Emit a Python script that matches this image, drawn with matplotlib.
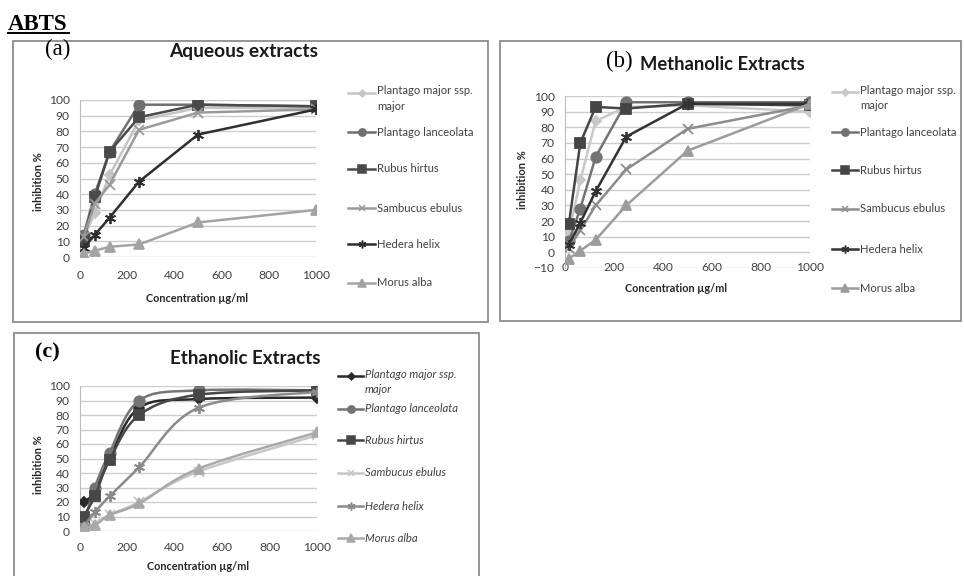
import numpy as np
import matplotlib
matplotlib.use("Agg")
import matplotlib.pyplot as plt
from matplotlib.patches import Rectangle, PathPatch
from matplotlib.lines import Line2D
from matplotlib.path import Path

# ---------------------------
# data (inhibition %)

conc = [15.6, 62.5, 125, 250, 500, 1000]
species = ['Plantago major ssp.\nmajor', 'Plantago lanceolata', 'Rubus hirtus',
           'Sambucus ebulus', 'Hedera helix', 'Morus alba']

pm_aq = [12, 28, 52, 87, 95, 95]
pl_aq = [14, 40, 67, 97, 97, 96]
rh_aq = [11, 38, 67, 89, 97, 96]
se_aq = [13, 34, 46, 81, 92, 94]
hh_aq = [6, 14, 25, 48, 78, 94]
ma_aq = [2, 4, 6.5, 8, 22, 30]

pm_me = [12, 46, 84, 93, 94, 90]
pl_me = [7, 28, 61, 96, 96, 96]
rh_me = [18, 70, 93, 92, 95, 94]
se_me = [3, 14, 30, 53, 79, 94]
hh_me = [5, 19, 39, 74, 95, 95]
ma_me = [-4, 1, 8, 30, 65, 95]

pm_et = [20, 27, 50, 85, 91, 92]
pl_et = [5, 30, 54, 90, 97, 97]
rh_et = [10, 24, 49, 80, 94, 97]
se_et = [2, 5, 11, 20, 41, 66]
hh_et = [3, 13, 24, 44, 85, 96]
ma_et = [3, 4, 11, 19, 43, 68]

aqueous = [pm_aq, pl_aq, rh_aq, se_aq, hh_aq, ma_aq]
methanolic = [pm_me, pl_me, rh_me, se_me, hh_me, ma_me]
ethanolic = [pm_et, pl_et, rh_et, se_et, hh_et, ma_et]

# ---------------------------
# styles

W, H = 964, 576
FONT = 'Lato'
markers = ['D', 'o', 's', 'x', (6, 2, 0), '^']
msizes = [5, 7.5, 7.5, 7, 8, 7.5]
cols_aq = ['#c4c4c4', '#6f6f6f', '#4a4a4a', '#9a9a9a', '#2e2e2e', '#a3a3a3']
cols_me = ['#c8c8c8', '#727272', '#454545', '#8c8c8c', '#333333', '#9c9c9c']
cols_et = ['#2a2a2a', '#747474', '#474747', '#c6c6c6', '#8a8a8a', '#a8a8a8']

plt.rcParams['font.family'] = [FONT, 'DejaVu Sans']

fig = plt.figure(figsize=(W / 100, H / 100), dpi=100)
fig.patch.set_facecolor('white')


def fx(x):
    return x / W


def fy(y):
    return 1 - y / H


def box(x0, y0, x1, y1):
    fig.add_artist(Rectangle((fx(x0), fy(y1)), (x1 - x0) / W, (y1 - y0) / H,
                             transform=fig.transFigure, fill=False,
                             ec='#8c8c8c', lw=1.3))


def smooth_path(x, y):
    # excel style smoothed line (catmull-rom as bezier)
    pts = np.column_stack([x, y]).astype(float)
    n = len(pts)
    verts = [pts[0]]
    codes = [Path.MOVETO]
    for i in range(n - 1):
        p0 = pts[i - 1] if i > 0 else pts[i]
        p1 = pts[i]
        p2 = pts[i + 1]
        p3 = pts[i + 2] if i + 2 < n else pts[i + 1]
        verts += [p1 + (p2 - p0) / 6, p2 - (p3 - p1) / 6, p2]
        codes += [Path.CURVE4] * 3
    return Path(verts, codes)


def panel(rect, series, colors, ymin, smooth=False, xpad=9.5):
    x0, y0, x1, y1 = rect
    ax = fig.add_axes([fx(x0), fy(y1), (x1 - x0) / W, (y1 - y0) / H])
    for i, vals in enumerate(series):
        c = colors[i]
        z = 3 + i
        if smooth:
            ax.add_patch(PathPatch(smooth_path(conc, vals), fill=False, ec=c,
                                   lw=1.8, zorder=z))
            ax.plot(conc, vals, ls='none', marker=markers[i], ms=msizes[i],
                    color=c, mew=1.3, zorder=z)
        else:
            ax.plot(conc, vals, color=c, lw=1.8, marker=markers[i],
                    ms=msizes[i], mew=1.3, zorder=z)
    ax.set_xlim(0, 1000)
    ax.set_ylim(ymin, 100)
    ax.set_xticks(range(0, 1001, 200))
    ax.set_yticks(range(ymin, 101, 10))
    ax.yaxis.grid(True, color='#cdcdcd', lw=1)
    ax.set_axisbelow(True)
    for s in ['top', 'right', 'bottom']:
        ax.spines[s].set_visible(False)
    ax.spines['left'].set_color('#bdbdbd')
    ax.tick_params(length=0, labelsize=8.7, labelcolor='#404040')
    ax.tick_params(axis='y', pad=7.5)
    ax.tick_params(axis='x', pad=xpad)
    ax.set_facecolor('none')
    return ax


def legend(x0, x1, xt, ys, colors, style='normal'):
    for i, name in enumerate(species):
        y = ys[i]
        fig.add_artist(Line2D([fx(x0), fx((x0 + x1) / 2), fx(x1)], [fy(y)] * 3,
                              transform=fig.transFigure, color=colors[i], lw=1.8,
                              marker=markers[i], markevery=[1],
                              ms=msizes[i] * 0.7, mew=1.1))
        if '\n' in name:
            fig.text(fx(xt), fy(y - 7.5), name, va='top', ha='left', fontsize=8.1,
                     color='#404040', style=style, linespacing=1.45)
        else:
            fig.text(fx(xt), fy(y), name, va='center', ha='left', fontsize=8.1,
                     color='#404040', style=style)


# ---------------------------
# header and frames

fig.text(fx(8), fy(30), 'ABTS', fontsize=16.5, fontweight='bold',
         family='Liberation Serif', ha='left', va='baseline')
fig.add_artist(Line2D([fx(8), fx(69)], [fy(33), fy(33)], transform=fig.transFigure,
                      color='black', lw=1.4))

box(13, 41, 488, 322)
box(500, 41, 961, 321)
box(14, 333, 479, 585)

# ---------------------------
# (a) aqueous

panel((80, 100, 316, 257), aqueous, cols_aq, 0, xpad=9.5)
fig.text(fx(45), fy(49), '(a)', fontsize=16.5, family='Liberation Serif',
         ha='left', va='center')
fig.text(fx(244), fy(52), 'Aqueous extracts', fontsize=13.8, fontweight='bold',
         ha='center', va='center', color='#1a1a1a')
fig.text(fx(38), fy(182), 'inhibition %', rotation=90, fontsize=8,
         fontweight='bold', ha='center', va='center', color='#262626')
fig.text(fx(197), fy(298), 'Concentration µg/ml', fontsize=7.8,
         fontweight='bold', ha='center', va='center', color='#262626')
legend(348, 375, 377, [93, 132, 169, 208, 244, 283], cols_aq)

# ---------------------------
# (b) methanolic

panel((565, 96, 810, 268), methanolic, cols_me, -10, xpad=-4)
fig.text(fx(606), fy(61), '(b)', fontsize=16.5, family='Liberation Serif',
         ha='left', va='center')
fig.text(fx(722), fy(64), 'Methanolic Extracts', fontsize=13.2, fontweight='bold',
         ha='center', va='center', color='#1a1a1a')
fig.text(fx(523), fy(180), 'inhibition %', rotation=90, fontsize=8,
         fontweight='bold', ha='center', va='center', color='#262626')
fig.text(fx(676), fy(288), 'Concentration µg/ml', fontsize=7.8,
         fontweight='bold', ha='center', va='center', color='#262626')
legend(832, 858, 860, [92, 132, 170, 209, 249, 288], cols_me)

# ---------------------------
# (c) ethanolic

panel((80, 386, 317, 531), ethanolic, cols_et, 0, smooth=True, xpad=8)
fig.text(fx(35), fy(352), '(c)', fontsize=16, fontweight='bold',
         family='Liberation Serif', ha='left', va='center')
fig.text(fx(245), fy(359), 'Ethanolic Extracts', fontsize=13.5, fontweight='bold',
         ha='center', va='center', color='#1a1a1a')
fig.text(fx(39), fy(465), 'inhibition %', rotation=90, fontsize=8,
         fontweight='bold', ha='center', va='center', color='#262626')
fig.text(fx(198), fy(567), 'Concentration µg/ml', fontsize=7.8,
         fontweight='bold', ha='center', va='center', color='#262626')
legend(338, 363, 365, [376, 409, 440, 473, 506, 538], cols_et, style='italic')

fig.savefig('out.png', dpi=100)
